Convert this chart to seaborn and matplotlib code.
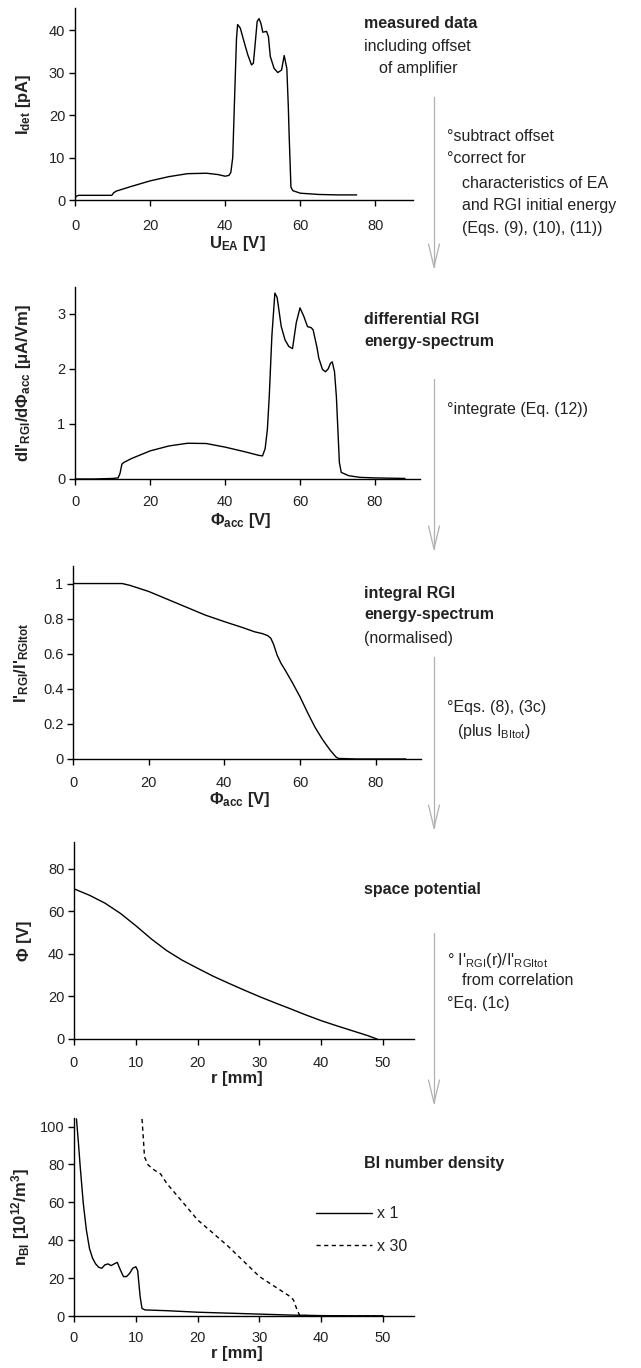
import numpy as np
import seaborn as sns
import matplotlib.pyplot as plt
from matplotlib.lines import Line2D
from matplotlib.ticker import FormatStrFormatter

# measured detector current
u_ea = [0, 0.3, 1, 5, 9.8, 10.3, 11, 15, 20, 25, 30, 35, 38, 40, 41, 41.5, 42, 42.6, 43.0, 43.3,
        44, 45, 46, 47, 47.5, 48, 48.5, 49, 49.5, 50, 51, 51.5, 52, 53, 54, 55, 55.7, 56.4,
        56.8, 57.0, 57.5, 58, 60, 65, 70, 75]
i_det = [0.3, 0.9, 1.1, 1.1, 1.1, 1.7, 2.1, 3.2, 4.5, 5.5, 6.2, 6.3, 6.0, 5.6, 5.8, 6.5, 10, 27, 38, 41.3,
         40.5, 37.3, 34.2, 31.8, 32.2, 37, 42, 42.7, 41.6, 39.5, 39.7, 38.5, 33.8, 31, 30, 30.6, 34, 31,
         22, 15.8, 3.0, 2.2, 1.6, 1.3, 1.2, 1.2]

# differential RGI energy spectrum
phi_d = [0, 5, 10, 11.5, 12, 12.5, 13, 15, 20, 25, 30, 35, 40, 45, 49, 50, 50.7, 51.3, 51.8, 52.5,
         53.3, 53.9, 55, 56, 57, 58, 59, 60, 61, 62, 63, 63.5, 64.5, 65, 66, 66.8, 67.5, 68.1, 68.6,
         69.2, 69.7, 70.1, 70.5, 71, 73, 76, 80, 88]
di_dphi = [0, 0, 0.01, 0.02, 0.1, 0.27, 0.3, 0.37, 0.51, 0.6, 0.65, 0.645, 0.58, 0.5, 0.43, 0.42, 0.55,
           0.9, 1.5, 2.6, 3.38, 3.3, 2.77, 2.53, 2.41, 2.37, 2.84, 3.11, 2.96, 2.77, 2.75, 2.71, 2.4,
           2.2, 1.99, 1.95, 2.0, 2.1, 2.13, 1.95, 1.5, 0.9, 0.3, 0.12, 0.06, 0.03, 0.02, 0.01]

# integral RGI energy spectrum (normalised)
phi_i = [0, 5, 10, 13, 15, 20, 25, 30, 35, 40, 45, 48, 50, 51.5, 52.3, 53, 54, 55, 56, 58, 60, 62,
         64, 66, 68, 69.5, 70.2, 75, 80, 88]
i_norm = [1.0, 1.0, 1.0, 1.0, 0.99, 0.955, 0.91, 0.865, 0.82, 0.783, 0.748, 0.725, 0.715, 0.703, 0.688,
          0.655, 0.59, 0.545, 0.51, 0.435, 0.355, 0.265, 0.18, 0.11, 0.05, 0.012, 0.003, 0.0, 0.0, 0.0]

# space potential
r_phi = [0, 2.5, 5, 7.5, 10, 12.5, 15, 17.5, 20, 22.5, 25, 27.5, 30, 32.5, 35, 37.5, 40, 42.5, 45, 47.5, 49]
phi = [70.5, 67.5, 63.8, 59, 53.2, 47, 41.5, 37, 33.2, 29.5, 26.2, 23, 19.9, 17, 14.2, 11.3, 8.6, 6.2,
       3.9, 1.6, 0.0]

# BI number density, x1 and x30
r_n1 = [0.4, 0.7, 1, 1.5, 2, 2.5, 3, 3.5, 4, 4.5, 5, 5.5, 6, 6.5, 7, 7.5, 8, 8.5, 9, 9.5, 10, 10.3,
        10.7, 11, 11.5, 15, 20, 25, 30, 35, 40, 45, 50]
n_bi = [104, 92, 79, 59.5, 45.4, 35.7, 30.5, 27.5, 25.7, 25.2, 27.0, 27.5, 26.6, 27.5, 28.3, 24.3, 20.8,
        20.8, 22.5, 25.2, 26, 24, 10.2, 4, 3.2, 2.8, 2.0, 1.5, 1.0, 0.5, 0.2, 0.1, 0.1]
r_n30 = [11.0, 11.2, 11.4, 12, 13, 14, 15, 17.5, 20, 22.5, 25, 27.5, 30, 32.5, 35, 35.5, 36, 36.5, 40, 45, 50]
n_bi30 = [104, 94.7, 84, 79.7, 77, 75, 70, 60.4, 50.7, 43.7, 36.6, 28.7, 20.8, 15.5, 10.2, 8.5, 4, 0.3,
          0.1, 0.05, 0.0]

sns.set_theme(style="ticks")
plt.rcParams["font.family"] = ["Liberation Sans", "DejaVu Sans"]
plt.rcParams["mathtext.default"] = "regular"
plt.rcParams["axes.linewidth"] = 1.0

W, H = 641, 1368
fig = plt.figure(figsize=(W / 100, H / 100), dpi=100)
TXT = "#222222"


def add_ax(l, t, r, b):
    return fig.add_axes([l / W, 1 - b / H, (r - l) / W, (b - t) / H])


def style(ax, xlim, ylim, xt, yt, xlabel, ylabel, xpad, label_off, fmt="%g"):
    ax.set_xlim(*xlim)
    ax.set_ylim(*ylim)
    ax.set_xticks(xt)
    ax.set_yticks(yt)
    ax.yaxis.set_major_formatter(FormatStrFormatter(fmt))
    sns.despine(ax=ax)
    for s in ["left", "bottom"]:
        ax.spines[s].set_color("black")
    ax.tick_params(direction="out", length=4, width=1, color="black", labelsize=10.5,
                   labelcolor=TXT, pad=3)
    ax.tick_params(axis="x", pad=xpad)
    ax.set_xlabel(xlabel, fontsize=12, fontweight="bold", color=TXT, va="top")
    ax.set_ylabel(ylabel, fontsize=12, fontweight="bold", color=TXT)
    hpx = ax.get_position().height * H
    wpx = ax.get_position().width * W
    ax.xaxis.set_label_coords(0.48, -label_off / hpx)
    ax.yaxis.set_label_coords(-42 / wpx, 0.5)


lw = 1.0

ax1 = add_ax(75, 8, 413, 200)
sns.lineplot(x=u_ea, y=i_det, ax=ax1, color="black", lw=lw)
style(ax1, (0, 90), (0, 45.2), [0, 20, 40, 60, 80], [0, 10, 20, 30, 40],
      "U$_{EA}$ [V]", "I$_{det}$ [pA]", 10, 34)

ax2 = add_ax(75, 287, 420, 479)
sns.lineplot(x=phi_d, y=di_dphi, ax=ax2, color="black", lw=lw)
style(ax2, (0, 92), (0, 3.49), [0, 20, 40, 60, 80], [0, 1, 2, 3],
      "Φ$_{acc}$ [V]", "dI'$_{RGI}$/dΦ$_{acc}$ [μA/Vm]", 7.5, 32)

ax3 = add_ax(73, 566, 421, 759)
sns.lineplot(x=phi_i, y=i_norm, ax=ax3, color="black", lw=lw)
style(ax3, (0, 92), (0, 1.1), [0, 20, 40, 60, 80], [0, 0.2, 0.4, 0.6, 0.8, 1],
      "Φ$_{acc}$ [V]", "I'$_{RGI}$/I'$_{RGItot}$", 8.5, 31)

ax4 = add_ax(74, 842, 414, 1039)
sns.lineplot(x=r_phi, y=phi, ax=ax4, color="black", lw=lw)
style(ax4, (0, 55), (0, 92.5), [0, 10, 20, 30, 40, 50], [0, 20, 40, 60, 80],
      "r [mm]", "Φ [V]", 8.5, 32)

ax5 = add_ax(74, 1118, 414, 1316)
sns.lineplot(x=r_n1, y=n_bi, ax=ax5, color="black", lw=lw, label="x 1")
sns.lineplot(x=r_n30, y=n_bi30, ax=ax5, color="black", lw=lw, linestyle=(0, (3, 2.5)), label="x 30")
style(ax5, (0, 55), (0, 104.5), [0, 10, 20, 30, 40, 50], [0, 20, 40, 60, 80, 100],
      "r [mm]", "n$_{BI}$ [10$^{12}$/m$^{3}$]", 6.5, 30)
leg = ax5.legend(loc="center left", bbox_to_anchor=(316 / W, 1 - 1230 / H),
                 bbox_transform=fig.transFigure, frameon=False, fontsize=11.5,
                 handlelength=3.5, handletextpad=0.3, labelspacing=1.1,
                 borderpad=0, borderaxespad=0)
for t in leg.get_texts():
    t.set_color(TXT)

# process arrows between the steps
ax_x = 434
for top, tip in [(97, 267), (379, 549), (657, 828), (933, 1103)]:
    fig.add_artist(Line2D([ax_x / W, ax_x / W], [1 - top / H, 1 - tip / H],
                          transform=fig.transFigure, color="#b0b0b0", lw=0.9))
    fig.add_artist(Line2D([(ax_x - 5.5) / W, ax_x / W, (ax_x + 5.5) / W],
                          [1 - (tip - 23) / H, 1 - tip / H, 1 - (tip - 23) / H],
                          transform=fig.transFigure, color="#b0b0b0", lw=0.9))

notes = [
    (364, 22, "measured data", "bold"),
    (364, 45, "including offset", "normal"),
    (379, 67, "of amplifier", "normal"),
    (447, 135, "°subtract offset", "normal"),
    (447, 157, "°correct for", "normal"),
    (462, 182, "characteristics of EA", "normal"),
    (462, 204, "and RGI initial energy", "normal"),
    (462, 227, "(Eqs. (9), (10), (11))", "normal"),
    (364, 318, "differential RGI", "bold"),
    (364, 340, "energy-spectrum", "bold"),
    (447, 408, "°integrate (Eq. (12))", "normal"),
    (364, 592, "integral RGI", "bold"),
    (364, 613, "energy-spectrum", "bold"),
    (364, 637, "(normalised)", "normal"),
    (447, 706, "°Eqs. (8), (3c)", "normal"),
    (457, 729, "(plus I$_{BItot}$)", "normal"),
    (364, 888, "space potential", "bold"),
    (447, 958, "° I'$_{RGI}$(r)/I'$_{RGItot}$", "normal"),
    (462, 979, "from correlation", "normal"),
    (447, 1002, "°Eq. (1c)", "normal"),
    (364, 1162, "BI number density", "bold"),
]
for x, y, s, w in notes:
    fig.text(x / W, 1 - y / H, s, fontsize=11.5, fontweight=w, color=TXT,
             ha="left", va="center_baseline")

fig.savefig("out.png", dpi=100)
